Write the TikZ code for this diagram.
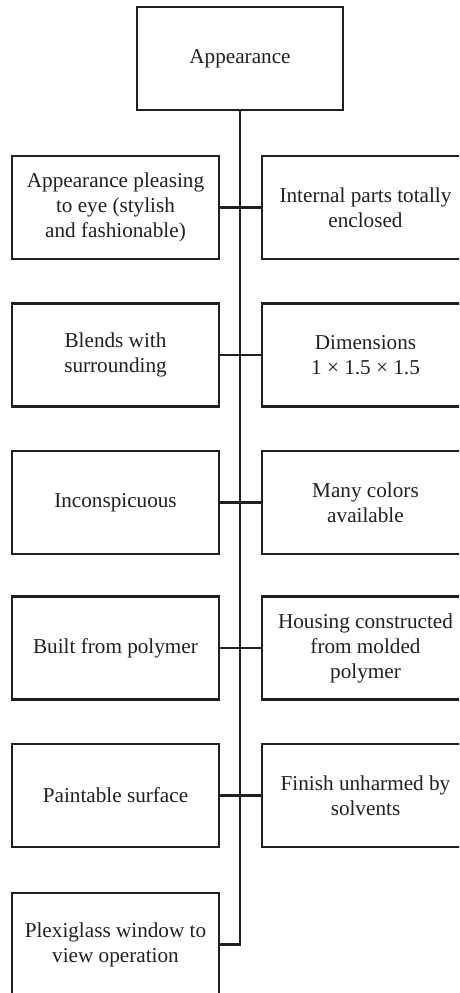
\documentclass[tikz,border=0pt]{standalone}
\usepackage{fontspec}
\setmainfont{Liberation Serif}
\begin{document}
\definecolor{ink}{HTML}{231F20}
\begin{tikzpicture}[x=1pt,y=-1pt,
  box/.style={draw=ink,line width=2.4pt,inner sep=0pt,minimum width=207pt,minimum height=103pt,
    align=center,text=ink,font=\fontsize{21.2}{25}\selectfont},
  topbox/.style={box,minimum width=206pt,minimum height=103pt},
  link/.style={draw=ink,line width=2.4pt,line join=miter}]
\useasboundingbox (0,0) rectangle (459,993);
\fill[white] (0,0) rectangle (459,993);
\clip (0,0) rectangle (459,993);

% root of the tree
\node[topbox] (top) at (240,58.5) {\raisebox{-2pt}{Appearance}};

% left column
\node[box] (l1) at (115.5,207.5) {Appearance pleasing\\to eye (stylish\\and fashionable)};
\node[box] (l2) at (115.5,355) {Blends with\\surrounding};
\node[box] (l3) at (115.5,502.5) {Inconspicuous};
\node[box] (l4) at (115.5,648) {Built from polymer};
\node[box] (l5) at (115.5,795.5) {Paintable surface};
\node[box] (l6) at (115.5,944.5) {Plexiglass window to\\view operation};

% right column
\node[box] (r1) at (365.5,207.5) {Internal parts totally\\enclosed};
\node[box] (r2) at (365.5,355) {Dimensions\\1 × 1.5 × 1.5};
\node[box] (r3) at (365.5,502.5) {Many colors\\available};
\node[box] (r4) at (365.5,648) {Housing constructed\\from molded\\polymer};
\node[box] (r5) at (365.5,795.5) {Finish unharmed by\\solvents};

% spine and branches
\draw[link] (top.south) |- (l6.east);
\foreach \i in {1,...,5}{
  \draw[link] (l\i.east) -- (r\i.west);
}
\end{tikzpicture}
\end{document}
